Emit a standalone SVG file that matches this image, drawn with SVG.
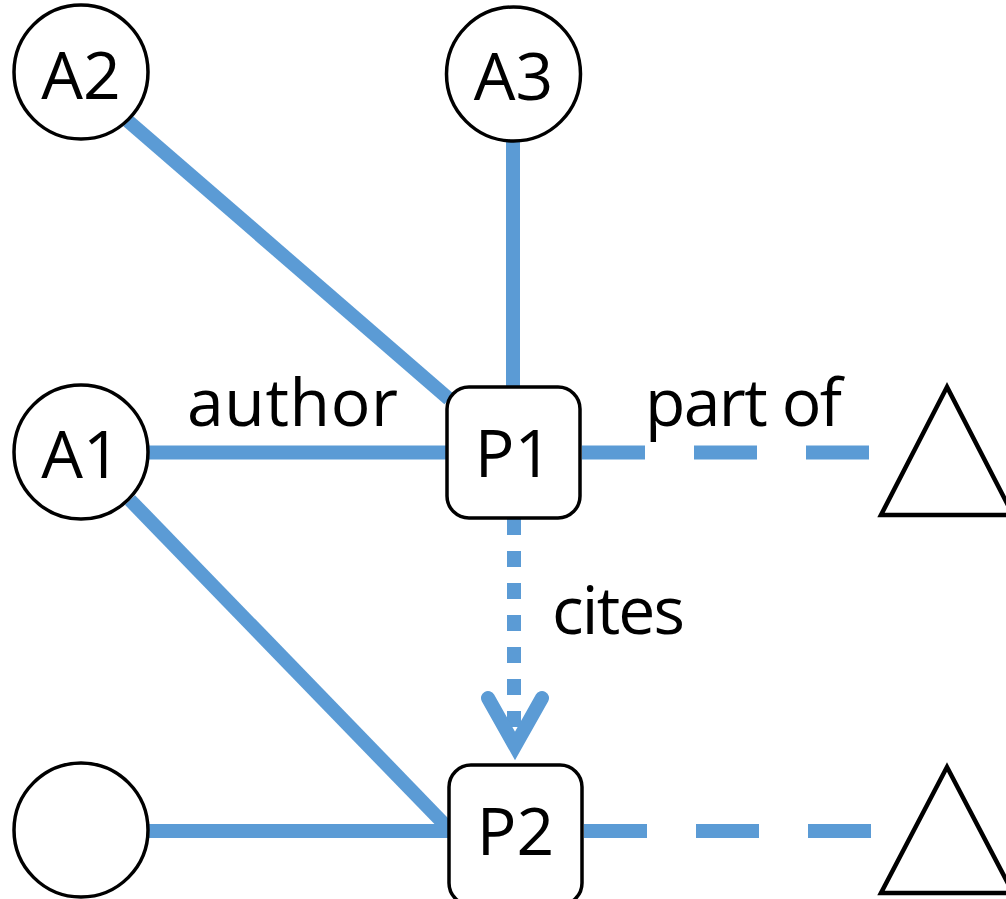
<svg xmlns="http://www.w3.org/2000/svg" width="1006" height="899" viewBox="0 0 1006 899">
<style>
.e{stroke:#5B9BD5;stroke-width:14;fill:none}
.d{stroke-dasharray:63 49}
.o{stroke-dasharray:16 16}
.n{fill:#fff;stroke:#000;stroke-width:3.5}
.t{fill:none;stroke:#000;stroke-width:4.5;stroke-linejoin:miter}
text{font-family:"Open Sans","Liberation Sans",sans-serif;font-size:66px;fill:#000}
.c{text-anchor:middle}
</style>
<rect width="1006" height="899" fill="#fff"/>
<g id="connectors">
<line class="e" x1="128" y1="121" x2="449" y2="399"/>
<line class="e" x1="513" y1="140" x2="513" y2="390"/>
<line class="e" x1="148" y1="452.5" x2="450" y2="452.5"/>
<line class="e" x1="130" y1="500" x2="447" y2="827"/>
<line class="e" x1="148" y1="831" x2="452" y2="831"/>
<line class="e d" x1="582" y1="452.5" x2="870" y2="452.5"/>
<line class="e d" x1="584" y1="831" x2="872" y2="831"/>
<line class="e o" x1="514" y1="519" x2="514" y2="735"/>
<polyline class="e" points="488,698 515,746 542,698" stroke-linecap="round" stroke-linejoin="miter" stroke-miterlimit="10"/>
<text x="187" y="426" textLength="211">author</text>
<text x="645" y="426" textLength="197">part of</text>
<text x="552" y="634" textLength="133">cites</text>
</g>
<g id="A2"><circle class="n" cx="81" cy="72" r="67"/><text class="c" x="81" y="99">A2</text></g>
<g id="A3"><circle class="n" cx="513.5" cy="74" r="67"/><text class="c" x="513.5" y="100">A3</text></g>
<g id="A1"><circle class="n" cx="81" cy="452" r="67"/><text class="c" x="81" y="478">A1</text></g>
<g id="A4"><circle class="n" cx="81" cy="830" r="67"/></g>
<g id="P1"><rect class="n" x="447" y="387" width="133" height="131" rx="22"/><text class="c" x="513.5" y="477">P1</text></g>
<g id="P2"><rect class="n" x="449" y="765" width="133" height="140" rx="22"/><text class="c" x="515.5" y="855">P2</text></g>
<g id="V1"><polygon class="t" points="947,387 881,515 1013,515"/></g>
<g id="V2"><polygon class="t" points="947,767 881,893 1013,893"/></g>
</svg>
